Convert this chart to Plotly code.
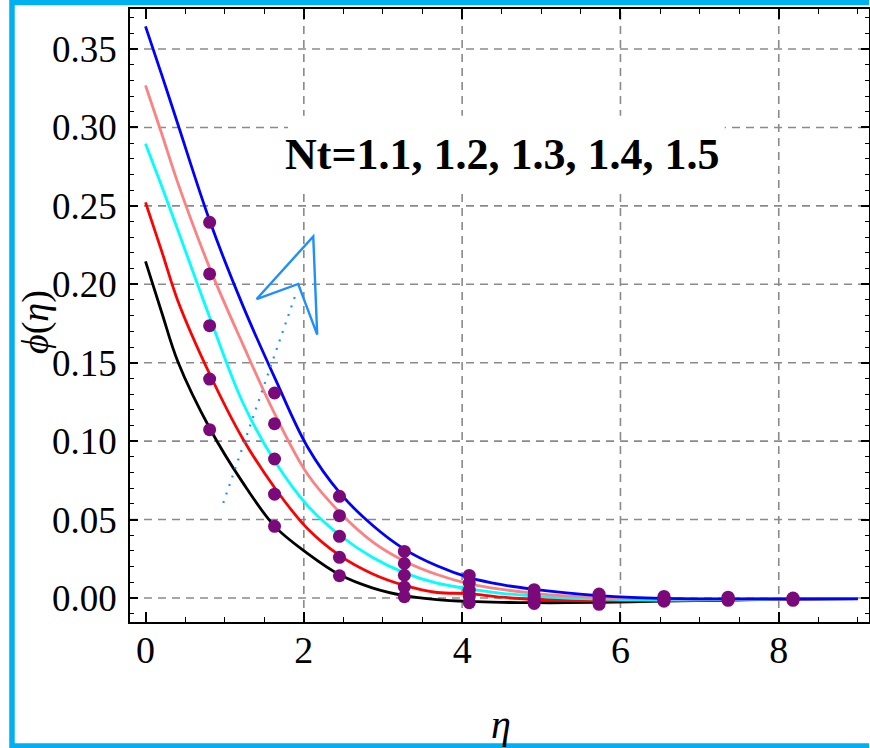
import plotly.graph_objects as go

# concentration profiles phi(eta) for several thermophoresis parameters Nt
eta = [0, 0.205, 0.409, 0.818, 1.227, 1.636, 2.045, 2.455, 2.864, 3.273, 3.682, 4.091,
       4.5, 4.909, 5.318, 5.727, 6.136, 6.545, 6.955, 7.364, 7.773, 8.182, 8.591, 9.0]

phi_nt11 = [0.2146, 0.1820, 0.1506, 0.1076, 0.0737, 0.0455, 0.0285, 0.0148, 0.0065, 0.0015, -0.001, -0.0022,
            -0.0028, -0.003, -0.003, -0.0028, -0.0025, -0.002, -0.0017, -0.0014, -0.001, -0.0008, -0.0005, -0.0004]
phi_nt12 = [0.2522, 0.2210, 0.1894, 0.142, 0.1017, 0.070, 0.0443, 0.027, 0.0155, 0.008, 0.0035, 0.0028,
            0.0005, -0.0008, -0.0015, -0.0018, -0.0018, -0.0017, -0.0015, -0.0012, -0.0009, -0.0007, -0.0005, -0.0004]
phi_nt13 = [0.2896, 0.2625, 0.2345, 0.178, 0.1248, 0.087, 0.059, 0.040, 0.026, 0.016, 0.0095, 0.0058,
            0.003, 0.0012, 0.0, -0.0007, -0.001, -0.0012, -0.0011, -0.001, -0.0008, -0.0006, -0.0005, -0.0004]
phi_nt14 = [0.3268, 0.2960, 0.2645, 0.2095, 0.162, 0.117, 0.079, 0.0545, 0.036, 0.0235, 0.015, 0.009,
            0.0055, 0.003, 0.0013, 0.0003, -0.0003, -0.0006, -0.0007, -0.0007, -0.0006, -0.0005, -0.0004, -0.0004]
phi_nt15 = [0.3644, 0.3335, 0.302, 0.2395, 0.1867, 0.1400, 0.0964, 0.067, 0.0465, 0.031, 0.0205, 0.013,
            0.0085, 0.0055, 0.0032, 0.0015, 0.0004, -0.0002, -0.0005, -0.0005, -0.0005, -0.0005, -0.0005, -0.0005]

# numerical solution points
eta_pts = [0.81, 1.63, 2.45, 3.27, 4.09, 4.91, 5.73, 6.55, 7.36, 8.18]
pts_nt11 = [0.1073, 0.0457, 0.0142, 0.0008, -0.003, -0.0035, -0.004, -0.002, -0.0015, -0.0015]
pts_nt12 = [0.1396, 0.0662, 0.0259, 0.007, 0.001, -0.002, -0.0025, -0.001, -0.001, -0.001]
pts_nt13 = [0.1736, 0.0886, 0.0393, 0.0145, 0.005, 0.0, -0.001, -0.0005, -0.0005, -0.0006]
pts_nt14 = [0.2066, 0.1111, 0.0525, 0.022, 0.0095, 0.002, 0.0005, 0.0, 0.0, -0.0003]
pts_nt15 = [0.2395, 0.1307, 0.0648, 0.0297, 0.0144, 0.0053, 0.0025, 0.001, 0.0005, 0.0]

curves = [
    (phi_nt11, "#000000"),
    (phi_nt12, "#FF0000"),
    (phi_nt13, "#00FFFF"),
    (phi_nt14, "#FF8080"),
    (phi_nt15, "#0000FF"),
]
points = [pts_nt11, pts_nt12, pts_nt13, pts_nt14, pts_nt15]

x_ticks = [0, 2, 4, 6, 8]
x_minor = [0.5, 1, 1.5, 2.5, 3, 3.5, 4.5, 5, 5.5, 6.5, 7, 7.5, 8.5, 9]
y_ticks = [0.00, 0.05, 0.10, 0.15, 0.20, 0.25, 0.30, 0.35]
x_grid = [2, 4, 6, 8]

X_RANGE = [-0.196, 9.14]
Y_RANGE = [-0.0153, 0.3755]
SERIF = "Liberation Serif, Times New Roman, serif"
GRID = "#8a8a8a"
ARROW = "#1E8FFF"

fig = go.Figure()

for vals, col in curves:
    fig.add_trace(go.Scatter(x=eta, y=vals, mode="lines",
                             line=dict(color=col, width=2.8, shape="spline", smoothing=1.0),
                             showlegend=False, hoverinfo="skip"))

for vals in points:
    fig.add_trace(go.Scatter(x=eta_pts, y=vals, mode="markers",
                             marker=dict(color="#7A0A7A", size=13, line=dict(width=0)),
                             showlegend=False, hoverinfo="skip"))

shapes = []
for gx in x_grid:
    shapes.append(dict(type="line", xref="x", yref="y", x0=gx, x1=gx, y0=Y_RANGE[0], y1=Y_RANGE[1],
                       line=dict(color=GRID, width=1.6, dash="8px,6px"), layer="below"))
for gy in y_ticks:
    shapes.append(dict(type="line", xref="x", yref="y", x0=X_RANGE[0], x1=X_RANGE[1], y0=gy, y1=gy,
                       line=dict(color=GRID, width=1.6, dash="8px,6px"), layer="below"))
# white box behind the parameter label
shapes.append(dict(type="rect", xref="x", yref="y", x0=1.80, x1=7.317, y0=0.2605, y1=0.3075,
                   fillcolor="white", line=dict(width=0), layer="below"))
# direction arrow (dotted shaft + open head)
shapes.append(dict(type="line", xref="x", yref="y", x0=0.982, y0=0.0606, x1=1.91, y1=0.1955,
                   line=dict(color=ARROW, width=2.2, dash="2px,7px")))
shapes.append(dict(type="path", xref="x", yref="y",
                   path="M 1.404,0.1906 L 2.119,0.2305 L 2.169,0.1679 L 1.929,0.2002 Z",
                   line=dict(color=ARROW, width=2.4), fillcolor="rgba(0,0,0,0)"))
# cyan frame around the figure: open on the right-hand side
BORDER = "#00B0F0"
shapes.append(dict(type="path", xref="paper", yref="paper",
                   path="M 1.0,1.0106 L -0.1597,1.0106 L -0.1597,-0.2022 L 1.0,-0.2022",
                   line=dict(color=BORDER, width=5.5), fillcolor="rgba(0,0,0,0)"))

fig.update_layout(
    width=870, height=748,
    margin=dict(l=130, r=1, t=9, b=126, autoexpand=False),
    paper_bgcolor="white", plot_bgcolor="white",
    shapes=shapes,
    annotations=[
        dict(text="<b>Nt=1.1, 1.2, 1.3, 1.4, 1.5</b>", x=4.51, y=0.2825, xref="x", yref="y",
             showarrow=False, font=dict(family=SERIF, size=44, color="black"),
             xanchor="center", yanchor="middle"),
        dict(text="<i>ϕ</i>(<i>η</i>)", x=(36 - 130) / 739, y=(622 - 322) / 613, xref="paper", yref="paper",
             showarrow=False, textangle=-90, font=dict(family=SERIF, size=38, color="black"),
             xanchor="center", yanchor="middle"),
        dict(text="<i>η</i>", x=(501 - 130) / 739, y=(622 - 724) / 613, xref="paper", yref="paper",
             showarrow=False, font=dict(family=SERIF, size=40, color="black"),
             xanchor="center", yanchor="middle"),
    ],
)

fig.update_xaxes(
    range=X_RANGE, tickvals=x_ticks, ticks="inside", ticklen=10, tickwidth=1.5, tickcolor="black",
    showline=True, linecolor="black", linewidth=1.6, mirror="allticks",
    showgrid=False, zeroline=False, automargin=False,
    minor=dict(tickvals=x_minor, ticks="inside", ticklen=5.5, tickwidth=1.2, tickcolor="black", showgrid=False),
    tickfont=dict(family=SERIF, size=38, color="black"), ticklabelstandoff=-6,
)
fig.update_yaxes(
    range=Y_RANGE, tickvals=y_ticks, ticktext=[f"{v:.2f}" for v in y_ticks],
    ticks="inside", ticklen=8, tickwidth=1.5, tickcolor="black",
    showline=True, linecolor="black", linewidth=1.6, mirror="allticks",
    showgrid=False, zeroline=False, automargin=False,
    minor=dict(dtick=0.01, tick0=0, ticks="inside", ticklen=4.5, tickwidth=1.2, tickcolor="black", showgrid=False),
    tickfont=dict(family=SERIF, size=37, color="black"), ticklabelstandoff=4,
)

fig.write_html("out.html")
